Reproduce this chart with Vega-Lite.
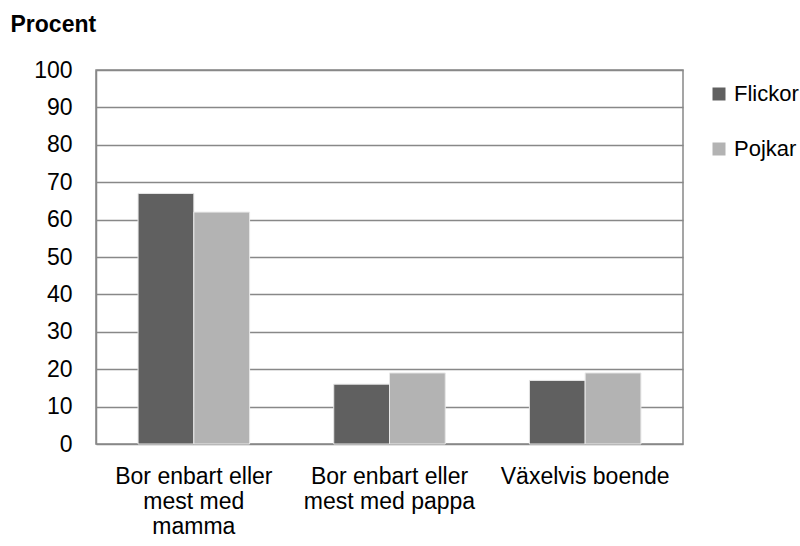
{
  "$schema": "https://vega.github.io/schema/vega-lite/v6.json",
  "width": 587,
  "height": 374,
  "autosize": "none",
  "padding": {"left": 96, "top": 70, "right": 117, "bottom": 102},
  "background": "white",
  "data": {
    "values": [
      {"kategori": "Bor enbart eller|mest med|mamma", "kon": "Flickor", "procent": 67},
      {"kategori": "Bor enbart eller|mest med|mamma", "kon": "Pojkar", "procent": 62},
      {"kategori": "Bor enbart eller|mest med pappa", "kon": "Flickor", "procent": 16},
      {"kategori": "Bor enbart eller|mest med pappa", "kon": "Pojkar", "procent": 19},
      {"kategori": "Växelvis boende", "kon": "Flickor", "procent": 17},
      {"kategori": "Växelvis boende", "kon": "Pojkar", "procent": 19}
    ]
  },
  "mark": {"type": "bar", "stroke": "#e8e8e8", "strokeWidth": 1},
  "encoding": {
    "x": {
      "field": "kategori",
      "type": "nominal",
      "sort": ["Bor enbart eller|mest med|mamma", "Bor enbart eller|mest med pappa", "Växelvis boende"],
      "scale": {"paddingInner": 0.43, "paddingOuter": 0.215},
      "axis": {
        "title": null,
        "labelExpr": "split(datum.label, '|')",
        "labelAngle": 0,
        "ticks": false,
        "domain": false,
        "labelFont": "Liberation Sans",
        "labelFontSize": 23,
        "labelColor": "black",
        "labelPadding": 21,
        "labelLineHeight": 25,
        "labelBaseline": "top",
        "labelLimit": 300
      }
    },
    "xOffset": {"field": "kon", "type": "nominal", "sort": ["Flickor", "Pojkar"]},
    "y": {
      "field": "procent",
      "type": "quantitative",
      "scale": {"domain": [0, 100], "nice": false},
      "axis": {
        "values": [0, 10, 20, 30, 40, 50, 60, 70, 80, 90, 100],
        "title": "Procent",
        "titleAngle": 0,
        "titleAlign": "left",
        "titleBaseline": "alphabetic",
        "titleX": -86,
        "titleY": -39,
        "titleFont": "Liberation Sans",
        "titleFontSize": 23,
        "titleFontWeight": "bold",
        "titleColor": "black",
        "labelFont": "Liberation Sans",
        "labelFontSize": 23,
        "labelColor": "black",
        "labelPadding": 24,
        "ticks": false,
        "domainColor": "#888888",
        "domainWidth": 1.5,
        "gridColor": "#888888",
        "gridWidth": 1.5
      }
    },
    "color": {
      "field": "kon",
      "type": "nominal",
      "scale": {"domain": ["Flickor", "Pojkar"], "range": ["#606060", "#b3b3b3"]},
      "legend": {
        "title": null,
        "orient": "none",
        "legendX": 612,
        "legendY": 13,
        "symbolType": "square",
        "symbolSize": 169,
        "symbolStrokeWidth": 0,
        "symbolOpacity": 1,
        "labelFont": "Liberation Sans",
        "labelFontSize": 22,
        "labelColor": "black",
        "labelOffset": 4,
        "rowPadding": 33
      }
    }
  },
  "config": {"view": {"stroke": "#888888", "strokeWidth": 1.5}}
}
